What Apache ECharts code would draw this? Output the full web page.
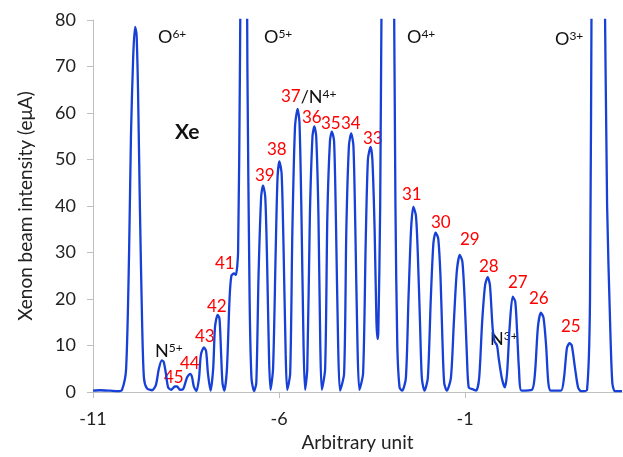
<!DOCTYPE html>
<html>
<head>
<meta charset="UTF-8">
<script src="https://cdn.jsdelivr.net/npm/echarts@6/dist/echarts.min.js"></script>
</head>
<body style="margin:0;background:#fff">
<div id="chart" style="width:623px;height:457px"></div>
<script>
// beam trace (x: arbitrary unit, y: eμA); O peaks run far above 80
var position = [
    -11.00, -10.81, -10.54, -10.33, -10.22, -10.11, -10.03, -9.98, -9.92, -9.87, -9.83, -9.79, -9.74, -9.68, -9.63, -9.55,
    -9.41, -9.31, -9.23, -9.15, -9.10, -9.04, -8.98, -8.90, -8.80, -8.74, -8.66, -8.58, -8.47, -8.39, -8.34, -8.29,
    -8.22, -8.15, -8.10, -8.02, -7.96, -7.91, -7.84, -7.77, -7.72, -7.65, -7.60, -7.56, -7.52, -7.47, -7.40, -7.33,
    -7.28, -7.21, -7.16, -7.10, -7.05, -6.97, -6.91, -6.85, -6.79, -6.74, -6.67, -6.61, -6.55, -6.48, -6.43, -6.37,
    -6.32, -6.27, -6.23, -6.16, -6.09, -6.04, -5.99, -5.93, -5.88, -5.82, -5.78, -5.70, -5.64, -5.57, -5.50, -5.45,
    -5.40, -5.34, -5.30, -5.24, -5.17, -5.10, -5.05, -5.00, -4.94, -4.89, -4.85, -4.76, -4.70, -4.63, -4.58, -4.52,
    -4.47, -4.41, -4.36, -4.25, -4.19, -4.12, -4.06, -4.00, -3.95, -3.89, -3.84, -3.74, -3.67, -3.61, -3.54, -3.49,
    -3.43, -3.38, -3.35, -3.33, -3.28, -3.23, -3.15, -2.99, -2.92, -2.87, -2.82, -2.76, -2.69, -2.59, -2.52, -2.45,
    -2.39, -2.32, -2.27, -2.21, -2.16, -2.09, -2.00, -1.92, -1.85, -1.79, -1.72, -1.66, -1.61, -1.56, -1.49, -1.38,
    -1.30, -1.22, -1.14, -1.07, -1.01, -0.95, -0.90, -0.79, -0.70, -0.62, -0.54, -0.46, -0.39, -0.33, -0.26, -0.21,
    -0.14, -0.09, -0.01, 0.07, 0.13, 0.20, 0.28, 0.35, 0.40, 0.45, 0.52, 0.80, 0.88, 0.96, 1.04, 1.11,
    1.18, 1.24, 1.31, 1.58, 1.66, 1.74, 1.81, 1.87, 1.96, 2.04, 2.12, 2.28, 2.36, 2.41, 2.47, 2.66,
    2.74, 2.82, 2.90, 2.96, 3.03, 3.22
];
var intensity = [
    0.3, 0.4, 0.3, 0.2, 0.5, 5, 30, 55, 72, 78.5, 77, 65, 40, 15, 3, 0.8,
    0.4, 1.5, 5, 6.8, 6.5, 4, 1, 0.5, 1.2, 1.2, 0.5, 0.6, 3.2, 3.9, 3.3, 1.2,
    0.2, 3, 8, 9.6, 8.8, 4, 0.3, 5, 14, 16.6, 15.8, 9, 2, 0.3, 5, 20,
    25, 25.5, 25.2, 30, 70, 150, 150, 70, 20, 3, 0.2, 2, 25, 42, 44.4, 42,
    28, 8, 0.5, 5, 30, 46, 49.6, 47, 32, 8, 0.5, 4, 35, 57, 60.9, 58,
    40, 10, 0.5, 5, 38, 55, 57.1, 55, 38, 10, 0.5, 5, 38, 54, 56, 54,
    37, 10, 0.3, 4, 35, 53, 55.6, 53, 36, 10, 0.5, 4, 32, 50, 52.7, 50,
    35, 15, 11.4, 13, 40, 100, 150, 150, 100, 40, 10, 1, 0.3, 3, 20, 35,
    39.8, 38, 30, 15, 3, 0.3, 3, 20, 32, 34.3, 33, 25, 12, 2, 0.3, 3,
    15, 26, 29.5, 28, 20, 8, 1, 0.6, 0.3, 3, 15, 23, 24.7, 23, 14, 11,
    10, 7, 3, 1, 4, 14, 20.5, 19.5, 13, 5, 0.3, 0.5, 4, 14, 17.1, 16,
    10, 2, 0.3, 0.3, 3, 9.5, 10.5, 10, 5, 1, 0.2, 0.5, 20, 100, 150, 150,
    100, 40, 15, 2, 0.2, 0.2
];
var xTicks = [-11, -6, -1];

// xenon charge states (red) and their spots on the picture
var xeStates = ['45', '44', '43', '42', '41', '39', '38', '36', '35', '34', '33', '31', '30', '29', '28', '27', '26', '25'];
var xePos = [[164, 371], [180, 357], [195, 330], [207, 300], [215, 257], [255, 169], [267, 143], [302, 111], [321, 117],
    [341, 117], [363, 132], [402, 188], [431, 216], [460, 233], [479, 260], [508, 276], [529, 292], [561, 320]];
// contaminant ions: element, charge
var ions = [['O', '6+'], ['O', '5+'], ['O', '4+'], ['O', '3+'], ['N', '5+'], ['N', '3+']];
var ionPos = [[158, 30], [264, 30], [407, 30], [555, 32], [155, 344], [490, 332]];

var FONT = 'Lato';
var graphics = [];
for (var i = 0; i < xeStates.length; i++) {
    graphics.push({
        type: 'text', x: xePos[i][0], y: xePos[i][1] - 2,
        style: {text: xeStates[i], fill: '#ff0000', font: '17px ' + FONT, verticalAlign: 'top'}
    });
}
var rich = {
    m: {fontSize: 18, fontFamily: FONT, fill: '#111', color: '#111', verticalAlign: 'top'},
    s: {fontSize: 12, fontFamily: FONT, fill: '#111', color: '#111', verticalAlign: 'top'},
    r: {fontSize: 17, fontFamily: FONT, fill: '#ff0000', color: '#ff0000', verticalAlign: 'top'}
};
for (var j = 0; j < ions.length; j++) {
    graphics.push({
        type: 'text', x: ionPos[j][0], y: ionPos[j][1] - 2,
        style: {text: '{m|' + ions[j][0] + '}{s|' + ions[j][1] + '}', rich: rich, verticalAlign: 'top'}
    });
}
// 37 shares its peak with N4+
graphics.push({
    type: 'text', x: 281, y: 88,
    style: {text: '{r|37}{m|/N}{s|4+}', rich: rich, verticalAlign: 'top'}
});
graphics.push({
    type: 'text', x: 175, y: 122,
    style: {text: 'Xe', fill: '#111', font: 'bold 21px ' + FONT, verticalAlign: 'top'}
});

var trace = [];
for (var k = 0; k < position.length; k++) trace.push([position[k], intensity[k]]);

var chart = echarts.init(document.getElementById('chart'));
chart.setOption({
    animation: false,
    grid: {left: 93, right: 1, top: 20, bottom: 62},
    xAxis: {
        type: 'value', min: -11, max: 3.22, interval: 5,
        name: 'Arbitrary unit', nameLocation: 'middle', nameGap: 36,
        nameTextStyle: {fontFamily: FONT, fontSize: 19, color: '#222'},
        axisLine: {onZero: false, lineStyle: {color: '#bfbfbf', width: 1}},
        axisTick: {show: true, length: 6, lineStyle: {color: '#bfbfbf'}, customValues: xTicks},
        axisLabel: {fontFamily: FONT, fontSize: 18, color: '#222', margin: 18, customValues: xTicks},
        splitLine: {show: false}
    },
    yAxis: {
        type: 'value', min: 0, max: 80, interval: 10,
        name: 'Xenon beam intensity (eμA)', nameLocation: 'middle', nameGap: 58,
        nameTextStyle: {fontFamily: FONT, fontSize: 19, color: '#222'},
        axisLine: {show: true, onZero: false, lineStyle: {color: '#bfbfbf', width: 1}},
        axisTick: {show: true, length: 6, lineStyle: {color: '#bfbfbf'}},
        axisLabel: {fontFamily: FONT, fontSize: 18, color: '#222', margin: 17},
        splitLine: {show: false}
    },
    series: [{
        type: 'line',
        data: trace,
        smooth: 0.25,
        showSymbol: false,
        clip: true,
        lineStyle: {color: '#1740d6', width: 2.3}
    }],
    graphic: graphics
});
</script>
</body>
</html>
